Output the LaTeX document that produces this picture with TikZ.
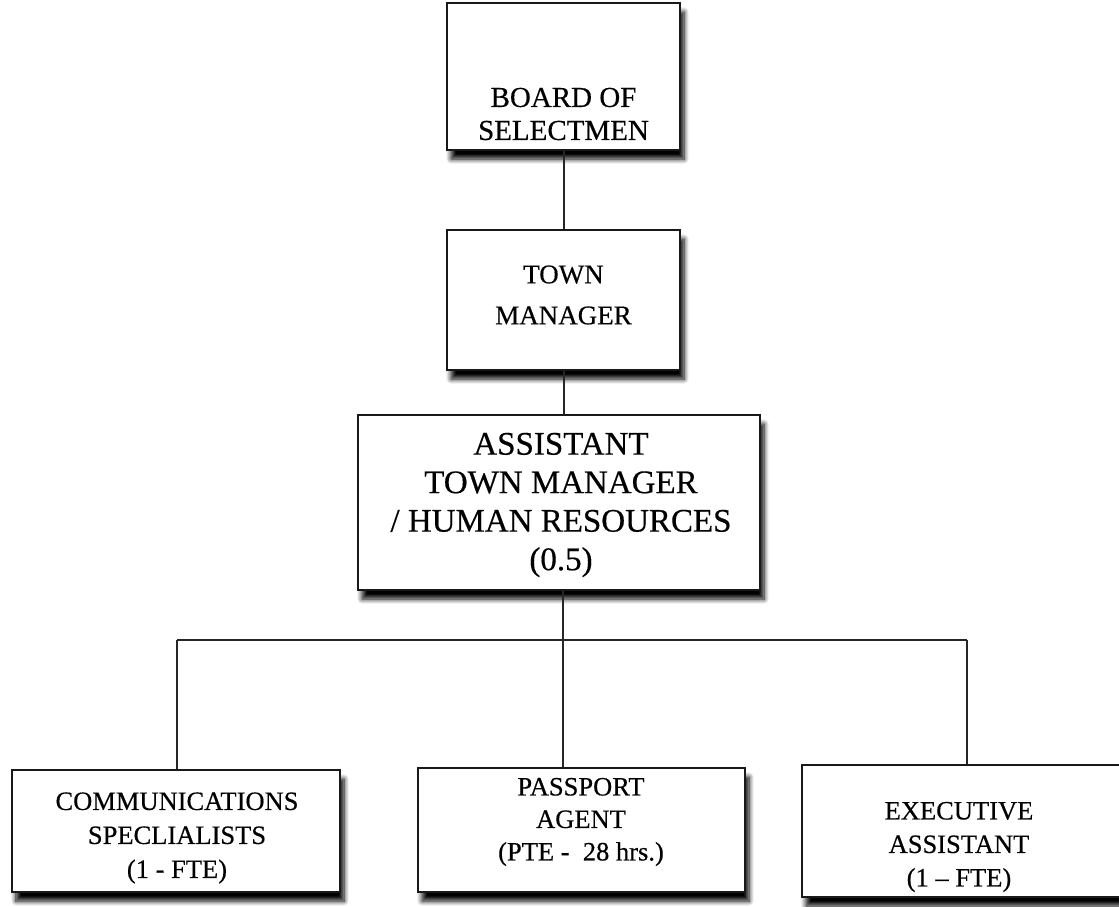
\documentclass[tikz,border=0pt]{standalone}
\usepackage{fontspec}
\setmainfont[FakeBold=0.4]{Liberation Serif}
\usetikzlibrary{shadows.blur}
\begin{document}
\begin{tikzpicture}[x=1pt,y=-1pt,
  box/.style={draw=black!90, line width=2.8pt, fill=white, rectangle, inner sep=0pt,
    blur shadow={shadow xshift=4pt, shadow yshift=-9pt, shadow blur radius=5pt,
      shadow blur steps=8, shadow opacity=100}},
  lbl/.style={align=center, inner sep=0pt, text=black},
  link/.style={draw=black!85, line width=2pt}]
\useasboundingbox (0,0) rectangle (1119,907);

% boxes
\node[box, minimum width=233pt, minimum height=147pt] (board) at (563.5,76.5) {};
\node[box, minimum width=233pt, minimum height=140pt] (tm) at (563.5,300) {};
\node[box, minimum width=402pt, minimum height=175pt] (atm) at (559,502.5) {};
\node[box, minimum width=328pt, minimum height=122pt] (comm) at (176,831) {};
\node[box, minimum width=327pt, minimum height=124pt] (pass) at (581.5,830) {};
\node[box, minimum width=330pt, minimum height=132pt] (exec) at (967,831) {};

% labels
\node[lbl, font=\fontsize{29}{33}\selectfont] (boardt) at (563.5,114) {BOARD OF\\SELECTMEN};
\node[lbl, font=\fontsize{27}{41}\selectfont] (tmt) at (563.5,295) {TOWN\\MANAGER};
\node[lbl, font=\fontsize{33}{38.5}\selectfont] (atmt) at (561,505) {ASSISTANT\\TOWN MANAGER\\/ HUMAN RESOURCES\\(0.5)};
\node[lbl, font=\fontsize{26.5}{34}\selectfont] (commt) at (177,838) {COMMUNICATIONS\\SPECLIALISTS\\(1 - FTE)};
\node[lbl, font=\fontsize{26.5}{32.5}\selectfont] (passt) at (581,822) {PASSPORT\\AGENT\\(PTE -\ \ 28 hrs.)};
\node[lbl, font=\fontsize{26.5}{33.5}\selectfont] (exect) at (959,847) {EXECUTIVE\\ASSISTANT\\(1 -- FTE)};

% connectors
\coordinate (bus) at (563,640);
\coordinate (busl) at (177,640);
\coordinate (busr) at (967,640);
\draw[link] (board.south) -- (tm.north);
\draw[link] (tm.south) -- (atm.north -| tm.south);
\draw[link] (atm.south -| bus) -- (bus);
\draw[link] (busl) -- (busr);
\draw[link] (busl) -- (busl |- comm.north);
\draw[link] (bus) -- (bus |- pass.north);
\draw[link] (busr) -- (busr |- exec.north);
\end{tikzpicture}
\end{document}
